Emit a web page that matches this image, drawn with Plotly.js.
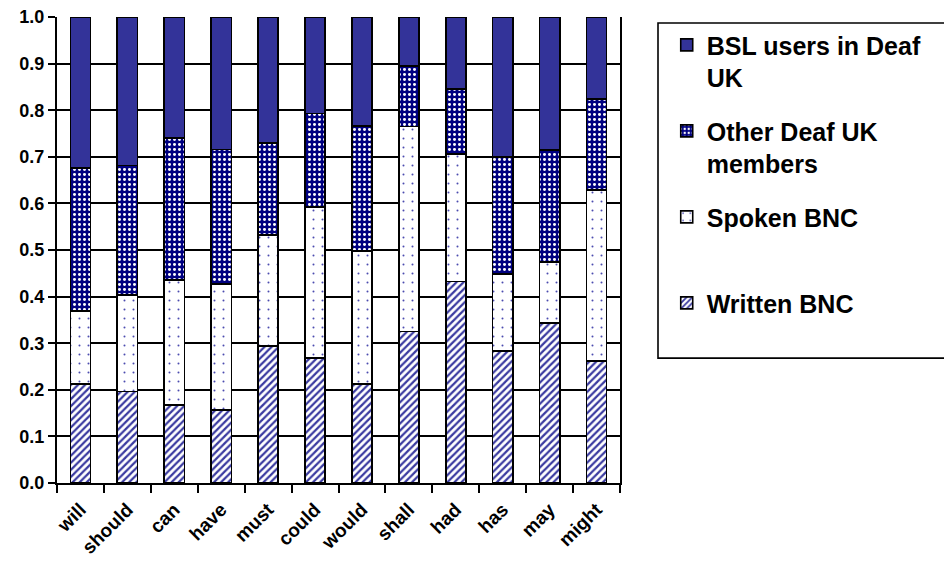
<!DOCTYPE html>
<html>
<head>
<meta charset="utf-8">
<script src="https://cdn.plot.ly/plotly-3.0.1.min.js"></script>
<style>
  html, body { margin: 0; padding: 0; background: #ffffff; }
  #chart { width: 944px; height: 568px; }
</style>
</head>
<body>
<div id="chart"></div>
<script>
// Modal verbs and the share of each source (stacked to 1.0)
const verbs = ["will", "should", "can", "have", "must", "could", "would", "shall", "had", "has", "may", "might"];
const writtenBNC = [0.212, 0.196, 0.167, 0.157, 0.294, 0.268, 0.212, 0.325, 0.432, 0.283, 0.343, 0.262];
const spokenBNC  = [0.157, 0.207, 0.269, 0.270, 0.238, 0.324, 0.286, 0.440, 0.274, 0.165, 0.131, 0.367];
const otherDeaf  = [0.307, 0.278, 0.304, 0.289, 0.197, 0.201, 0.268, 0.130, 0.139, 0.252, 0.241, 0.195];
const bslUsers   = [0.324, 0.319, 0.260, 0.284, 0.271, 0.207, 0.234, 0.105, 0.155, 0.300, 0.285, 0.176];

const seriesNames = ["Written BNC", "Spoken BNC", "Other Deaf UK<br>members", "BSL users in Deaf<br>UK"];

const FONT = "Liberation Sans, Arial, Helvetica, sans-serif";
const outline = { color: "#000000", width: 1.6 };

// Bottom-to-top stacking order; legendrank puts the top segment first in the legend
const traces = [
  {
    type: "bar", x: verbs, y: writtenBNC, name: seriesNames[0] + "<br>\u00a0",
    legendgroup: "w", legendrank: 4,
    marker: { color: "#ffffff", line: outline,
      pattern: { shape: "/", fgcolor: "#3a3aa0", bgcolor: "#ffffff", size: 5, solidity: 0.45, fillmode: "replace" } }
  },
  {
    type: "bar", x: verbs, y: spokenBNC, name: seriesNames[1] + "<br>\u00a0",
    legendgroup: "s", legendrank: 3,
    marker: { color: "#ffffff", line: outline,
      pattern: { shape: ".", fgcolor: "#4b4bb0", bgcolor: "#ffffff", size: 9, solidity: 0.04, fillmode: "replace" } }
  },
  {
    type: "bar", x: verbs, y: otherDeaf, name: seriesNames[2],
    legendgroup: "o", legendrank: 2,
    marker: { color: "#000080", line: outline,
      pattern: { shape: ".", fgcolor: "#ffffff", bgcolor: "#000080", size: 5, solidity: 0.28, fillmode: "replace" } }
  },
  {
    type: "bar", x: verbs, y: bslUsers, name: seriesNames[3],
    legendgroup: "b", legendrank: 1,
    marker: { color: "#333399", line: outline }
  }
];

const layout = {
  width: 944,
  height: 568,
  margin: { l: 57, r: 324, t: 17, b: 85, autoexpand: false },
  paper_bgcolor: "#ffffff",
  plot_bgcolor: "#ffffff",
  barmode: "stack",
  bargap: 0.57,
  font: { family: FONT, color: "#000000" },
  xaxis: {
    type: "category",
    tickangle: -45,
    tickfont: { family: FONT, size: 19, weight: "bold", color: "#000000" },
    ticklabelstandoff: 6,
    showline: true, linecolor: "#000000", linewidth: 2,
    ticks: "outside", ticklen: 8, tickwidth: 2, tickcolor: "#000000",
    tickson: "boundaries",
    showgrid: false,
    zeroline: false
  },
  yaxis: {
    range: [0, 1],
    dtick: 0.1,
    tickformat: ".1f",
    tickfont: { family: FONT, size: 18, weight: "bold", color: "#000000" },
    showline: true, linecolor: "#000000", linewidth: 2, mirror: true,
    ticks: "outside", ticklen: 7, tickwidth: 2, tickcolor: "#000000",
    showgrid: true, gridcolor: "#000000", gridwidth: 2,
    zeroline: false
  },
  showlegend: true,
  legend: {
    x: 1.083, xanchor: "left",
    y: 0.989, yanchor: "top",
    traceorder: "grouped",
    tracegroupgap: 18,
    valign: "top",
    bgcolor: "rgba(0,0,0,0)",
    borderwidth: 0,
    font: { family: FONT, size: 25, weight: "bold", color: "#000000" }
  },
  shapes: [
    {
      type: "rect", xref: "paper", yref: "paper",
      x0: 1.0675, x1: 1.60, y0: 0.268, y1: 0.987,
      line: { color: "#000000", width: 1.6 },
      fillcolor: "rgba(0,0,0,0)",
      layer: "below"
    }
  ]
};

Plotly.newPlot("chart", traces, layout, { displayModeBar: false, staticPlot: true });
</script>
</body>
</html>
